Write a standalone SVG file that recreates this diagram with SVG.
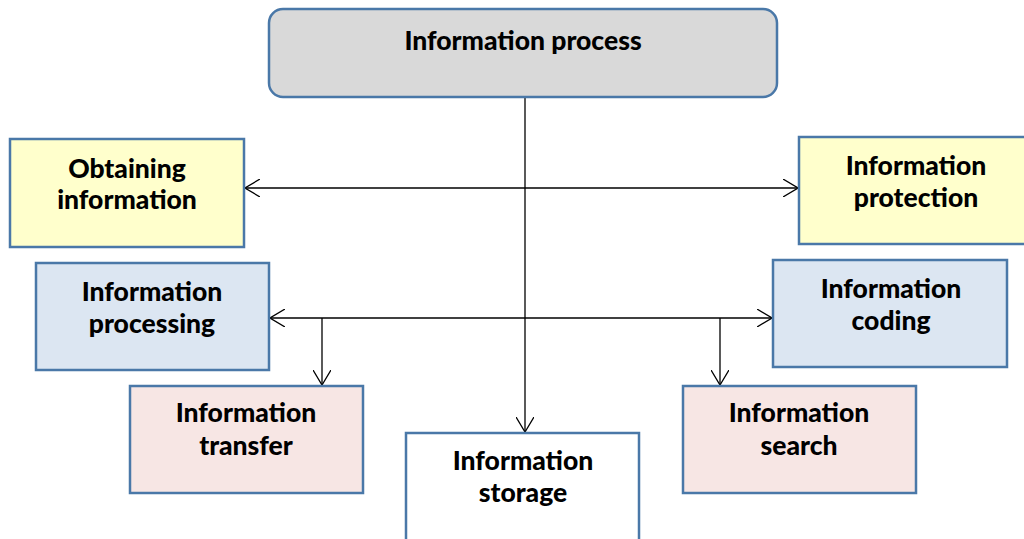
<svg xmlns="http://www.w3.org/2000/svg" width="1024" height="539" viewBox="0 0 1024 539">
<defs>
<marker id="arr" viewBox="0 0 16 18" refX="15" refY="9" markerWidth="16" markerHeight="18" markerUnits="userSpaceOnUse" orient="auto-start-reverse">
<path d="M0,0 L15,9 L0,18" fill="none" stroke="#000" stroke-width="1.3"/>
</marker>
<style>
.box{stroke:#4a78a8;stroke-width:2.5}
.y{fill:#ffffcc}
.b{fill:#dce6f2}
.p{fill:#f7e6e4}
.w{fill:#ffffff}
.t{font-family:Lato,"Open Sans",sans-serif;font-weight:900;font-size:26.5px;fill:#000;text-anchor:middle}
.c{stroke:#000;stroke-width:1.3;fill:none}
</style>
</defs>
<g id="connectors">
<line class="c" x1="525" y1="97" x2="525" y2="432" marker-end="url(#arr)"/>
<line class="c" x1="245" y1="188" x2="798" y2="188" marker-start="url(#arr)" marker-end="url(#arr)"/>
<line class="c" x1="270" y1="318" x2="772" y2="318" marker-start="url(#arr)" marker-end="url(#arr)"/>
<line class="c" x1="322" y1="318" x2="322" y2="385" marker-end="url(#arr)"/>
<line class="c" x1="720" y1="318" x2="720" y2="385" marker-end="url(#arr)"/>
</g>
<g id="process">
<rect class="box" x="269" y="9" width="508" height="88" rx="14" fill="#d9d9d9"/>
<text class="t" x="523" y="50">Information process</text>
</g>
<g id="obtaining">
<rect class="box y" x="10" y="139" width="234" height="108"/>
<text class="t" x="127" y="178">Obtaining</text>
<text class="t" x="127" y="209">information</text>
</g>
<g id="protection">
<rect class="box y" x="799" y="137" width="230" height="107"/>
<text class="t" x="916" y="175">Information</text>
<text class="t" x="916" y="207">protection</text>
</g>
<g id="processing">
<rect class="box b" x="36" y="263" width="233" height="107"/>
<text class="t" x="152" y="301">Information</text>
<text class="t" x="152" y="333">processing</text>
</g>
<g id="coding">
<rect class="box b" x="773" y="260" width="234" height="107"/>
<text class="t" x="891" y="298">Information</text>
<text class="t" x="891" y="330">coding</text>
</g>
<g id="transfer">
<rect class="box p" x="130" y="386" width="233" height="107"/>
<text class="t" x="246" y="422">Information</text>
<text class="t" x="246" y="455">transfer</text>
</g>
<g id="search">
<rect class="box p" x="683" y="386" width="233" height="107"/>
<text class="t" x="799" y="422">Information</text>
<text class="t" x="799" y="455">search</text>
</g>
<g id="storage">
<rect class="box w" x="406" y="433" width="233" height="120"/>
<text class="t" x="523" y="470">Information</text>
<text class="t" x="523" y="502">storage</text>
</g>
</svg>
